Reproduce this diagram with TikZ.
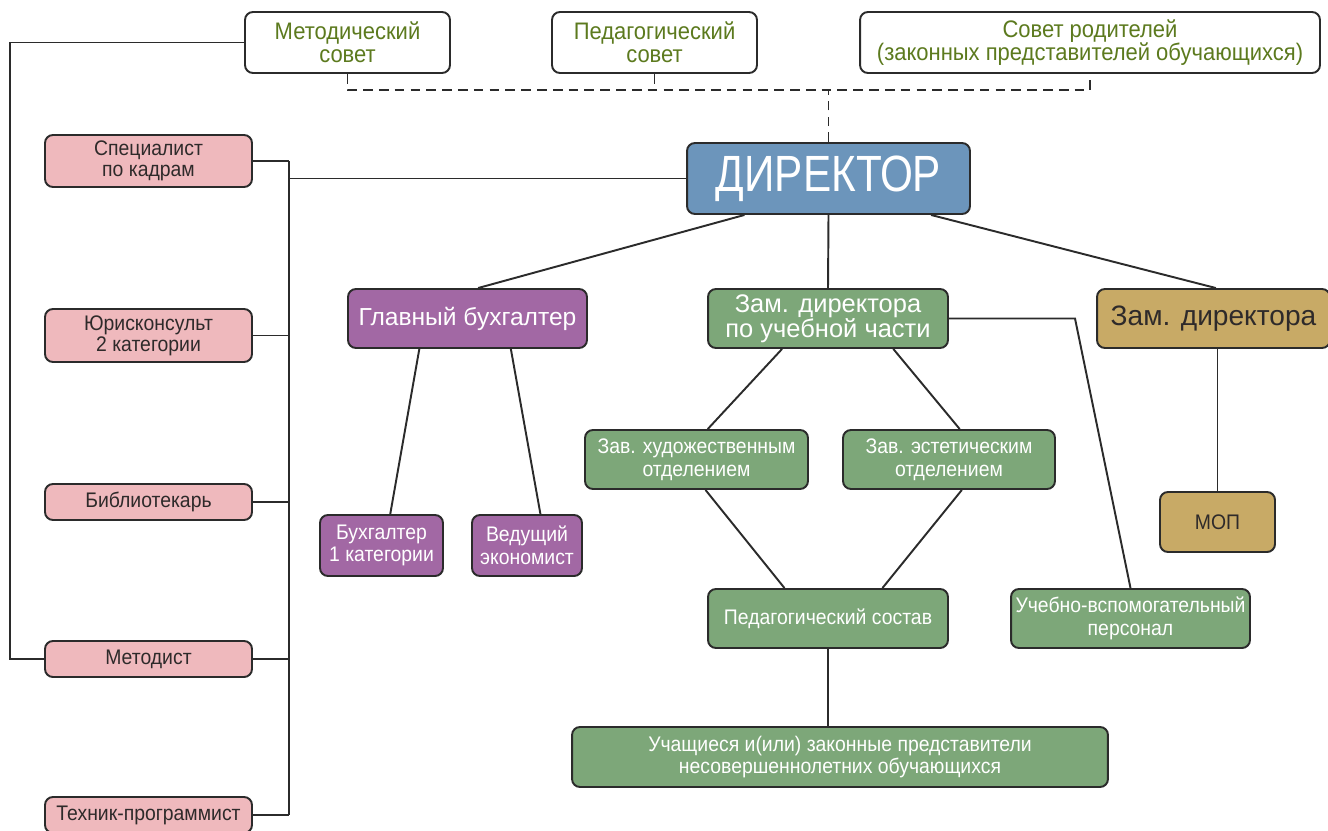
\documentclass[tikz,border=0pt]{standalone}
\usepackage{fontspec}
\setmainfont{Liberation Sans}
\newfontfamily\narrowfont{Liberation Sans}[FakeStretch=0.83]
\newfontfamily\staffont{Liberation Sans}[FakeStretch=0.92]
\usetikzlibrary{calc}

\definecolor{edge}{HTML}{2B2B2B}
\definecolor{olivetext}{HTML}{5C7A1E}
\definecolor{darktext}{HTML}{2E2A2A}
\definecolor{pinkfill}{HTML}{EFB9BD}
\definecolor{purplefill}{HTML}{A268A4}
\definecolor{greenfill}{HTML}{7DA779}
\definecolor{goldfill}{HTML}{C8AA66}
\definecolor{bluefill}{HTML}{6C95BB}

\begin{document}
\begin{tikzpicture}[
  x=0.02cm, y=-0.02cm,
  line width=1.1pt,
  box/.style={rectangle, draw=edge, rounded corners=4.5pt, line width=1.1pt, align=center, inner sep=1pt},
  council/.style={box, fill=white, text=olivetext, font=\staffont\fontsize{13.6}{13}\selectfont, minimum height=1.22cm},
  staff/.style={box, fill=pinkfill, text=darktext, font=\staffont\fontsize{12}{12}\selectfont, minimum width=4.14cm},
  buhbox/.style={box, fill=purplefill, text=white, font=\staffont\fontsize{12}{13}\selectfont, minimum height=1.22cm},
  uchbox/.style={box, fill=greenfill, text=white, font=\staffont\fontsize{12}{12.8}\selectfont, minimum height=1.18cm},
  hozbox/.style={box, fill=goldfill, text=darktext},
  link/.style={draw=edge, line width=1.1pt},
  council link/.style={draw=edge, line width=1.1pt, dash pattern=on 5.5pt off 3.5pt}
]

\useasboundingbox (0,0) rectangle (1328,831);

% советы
\node[council, minimum width=4.1cm] (met) at (347.5,42.5) {Методический\\совет};
\node[council, minimum width=4.1cm] (ped) at (654.5,42.5) {Педагогический\\совет};
\node[council, minimum width=9.2cm] (rod) at (1090,42.5) {Совет родителей\\(законных представителей обучающихся)};

% руководство
\node[box, fill=bluefill, text=white, font=\narrowfont\fontsize{29}{29}\selectfont,
  minimum width=5.66cm, minimum height=1.42cm] (dir) at (828.5,178.5) {ДИРЕКТОР};
\node[box, fill=purplefill, text=white, font=\fontsize{14}{14}\selectfont,
  minimum width=4.78cm, minimum height=1.18cm] (glb) at (467.5,318.5) {Главный бухгалтер};
\node[box, fill=greenfill, text=white, font=\fontsize{14.5}{14}\selectfont,
  minimum width=4.8cm, minimum height=1.18cm] (zuch) at (828,318.5) {Зам. директора\\по учебной части};
\node[hozbox, font=\fontsize{16}{16}\selectfont,
  minimum width=4.66cm, minimum height=1.18cm] (zdir) at (1213.5,318.5) {Зам. директора};

% специалисты
\node[staff, minimum height=1.04cm] (spec) at (148.5,161) {Специалист\\по кадрам};
\node[staff, minimum height=1.06cm] (jur) at (148.5,335.5) {Юрисконсульт\\2 категории};
\node[staff, minimum height=0.72cm] (bib) at (148.5,502) {Библиотекарь};
\node[staff, minimum height=0.72cm] (metod) at (148.5,659) {Методист};
\node[staff, minimum height=0.72cm] (tech) at (148.5,815) {Техник-программист};

% бухгалтерия
\node[buhbox, minimum width=2.46cm] (buh1) at (381.5,545.5) {Бухгалтер\\1 категории};
\node[buhbox, minimum width=2.2cm] (econ) at (527,545.5) {Ведущий\\экономист};

% учебная часть
\node[uchbox, minimum width=4.46cm] (zhud) at (696.5,459.5) {Зав. художественным\\отделением};
\node[uchbox, minimum width=4.24cm] (zest) at (949,459.5) {Зав. эстетическим\\отделением};
\node[uchbox, minimum width=4.8cm] (pedsost) at (828,618.5) {Педагогический состав};
\node[uchbox, minimum width=4.78cm] (uvp) at (1130.5,618.5) {Учебно-вспомогательный\\персонал};
\node[uchbox, minimum width=10.72cm, minimum height=1.2cm] (uch) at (840,757) {Учащиеся и(или) законные представители\\несовершеннолетних обучающихся};

\node[hozbox, font=\staffont\fontsize{12}{12}\selectfont,
  minimum width=2.3cm, minimum height=1.2cm] (mop) at (1217.5,522) {МОП};

% пунктир к советам
\coordinate (dashline) at (0,90);
\draw[council link] (met.south) -- (met.south |- dashline) -- (rod.south |- dashline) -- (rod.south);
\draw[council link] (ped.south) -- (ped.south |- dashline);
\draw[council link] (dir.north) -- (dir.north |- dashline);

% левая шина
\coordinate (bustop) at (289,161);
\coordinate (frame) at (10,0);
\draw[link] (bustop) -- (tech.east -| bustop);
\foreach \n in {spec,jur,bib,metod,tech}
  \draw[link] (\n.east) -- (\n.east -| bustop);
\draw[link] (dir.west) -- (dir.west -| bustop);
\draw[link] (met.west) -- (met.west -| frame) |- (metod.west);

% подчинение директору
\draw[link] ($(dir.south west)!.205!(dir.south east)$) -- ($(glb.north west)!.544!(glb.north east)$);
\draw[link] (dir.south) -- (zuch.north);
\draw[link] ($(dir.south west)!.86!(dir.south east)$) -- ($(zdir.north west)!.51!(zdir.north east)$);

% бухгалтерия
\draw[link] ($(glb.south west)!.30!(glb.south east)$) -- ($(buh1.north west)!.57!(buh1.north east)$);
\draw[link] ($(glb.south west)!.68!(glb.south east)$) -- ($(econ.north west)!.62!(econ.north east)$);

% учебная часть
\draw[link] ($(zuch.south west)!.31!(zuch.south east)$) -- ($(zhud.north west)!.55!(zhud.north east)$);
\draw[link] ($(zuch.south west)!.77!(zuch.south east)$) -- ($(zest.north west)!.55!(zest.north east)$);
\draw[link] ($(zhud.south west)!.54!(zhud.south east)$) -- ($(pedsost.north west)!.32!(pedsost.north east)$);
\draw[link] ($(zest.south west)!.56!(zest.south east)$) -- ($(pedsost.north west)!.725!(pedsost.north east)$);
\draw[link] (pedsost.south) -- (pedsost.south |- uch.north);
\coordinate (bend) at (1075,0);
\draw[link] (zuch.east) -- (zuch.east -| bend) -- (uvp.north);

% хозяйственная часть
\draw[link] (mop.north) -- (mop.north |- zdir.south);

\end{tikzpicture}
\end{document}
